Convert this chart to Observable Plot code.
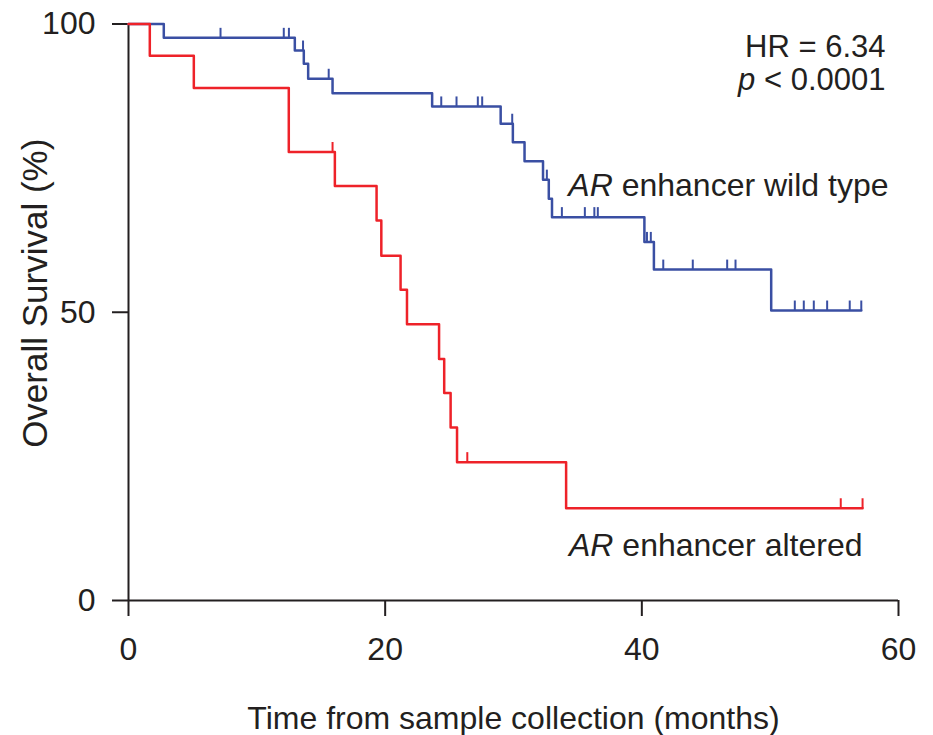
<!DOCTYPE html>
<html><head><meta charset="utf-8">
<script src="https://cdn.jsdelivr.net/npm/d3@7"></script>
<script src="https://cdn.jsdelivr.net/npm/@observablehq/plot@0.6"></script>
<style>html,body{margin:0;padding:0;background:#fff}</style>
</head><body><div id="chart"></div>
<script>
// AR enhancer wild type (blue) — step times (months) and survival (%)
const wildTimes = [0, 2.75, 12.96, 13.66, 14.0, 15.9, 23.66, 29.0, 29.95, 30.86, 32.3, 32.75, 33.0, 40.2, 40.94, 50.08, 57.1];
const wildSurv  = [100, 97.6, 95.4, 93.1, 90.5, 88.0, 85.7, 82.7, 79.5, 76.2, 73.0, 69.7, 66.5, 62.2, 57.4, 50.3, 50.3];
const wildCensorTimes = [7.17, 12.1, 12.5, 13.6, 15.6, 24.37, 25.56, 27.22, 27.56, 29.9, 32.6, 33.77, 35.56, 36.3, 36.57, 40.4, 40.7, 41.67, 43.97, 46.65, 47.3, 51.92, 52.62, 53.4, 54.44, 56.2, 57.1];
const wildCensorSurv  = [97.6, 97.6, 97.6, 95.4, 90.5, 85.7, 85.7, 85.7, 85.7, 82.7, 73.0, 66.5, 66.5, 66.5, 66.5, 62.2, 62.2, 57.4, 57.4, 57.4, 57.4, 50.3, 50.3, 50.3, 50.3, 50.3, 50.3];

// AR enhancer altered (red)
const altTimes = [0, 1.66, 5.09, 12.49, 16.08, 19.33, 19.7, 21.2, 21.7, 24.2, 24.6, 25.1, 25.6, 34.1, 57.2];
const altSurv  = [100, 94.5, 88.9, 77.8, 71.9, 65.9, 59.8, 53.9, 47.9, 41.9, 36.0, 30.0, 24.0, 16.0, 16.0];
const altCensorTimes = [15.9, 26.4, 55.5, 57.2];
const altCensorSurv  = [77.8, 24.0, 16.0, 16.0];

const xTicks = [0, 20, 40, 60];
const yTicks = [0, 50, 100];
const xTitle = "Time from sample collection (months)";
const yTitle = "Overall Survival (%)";
const wildLabel = "AR enhancer wild type";
const altLabel = "AR enhancer altered";
const hrText = "HR = 6.34";
const pText = "p < 0.0001";

const BLUE = "#3a4fa3", RED = "#ee2229", INK = "#231f20";
const FONT = "'Liberation Sans', Arial, Helvetica, sans-serif";

const wildSteps = wildTimes.map((t, i) => ({t, s: wildSurv[i]}));
const altSteps = altTimes.map((t, i) => ({t, s: altSurv[i]}));
const wildCensor = wildCensorTimes.map((t, i) => ({t, s: wildCensorSurv[i]}));
const altCensor = altCensorTimes.map((t, i) => ({t, s: altCensorSurv[i]}));

const censorSymbol = {draw(ctx) { ctx.moveTo(0, 0); ctx.lineTo(0, -10); }};

const hasAxisMarks = typeof Plot.axisX === "function";

const marks = [];
if (hasAxisMarks) {
  marks.push(
    Plot.axisX({ticks: xTicks, tickSize: 16, tickPadding: 21, strokeWidth: 2, stroke: INK, fill: INK, fontSize: 32, label: null, tickFormat: d => String(d)}),
    Plot.axisY({ticks: yTicks, tickSize: 16, tickPadding: 17, strokeWidth: 2, stroke: INK, fill: INK, fontSize: 32, label: null, tickFormat: d => String(d)})
  );
}
marks.push(
  Plot.ruleX([0], {stroke: INK, strokeWidth: 2}),
  Plot.ruleY([0], {stroke: INK, strokeWidth: 2}),
  Plot.line(wildSteps, {x: "t", y: "s", curve: "step-after", stroke: BLUE, strokeWidth: 2.5}),
  Plot.dot(wildCensor, {x: "t", y: "s", symbol: censorSymbol, stroke: BLUE, strokeWidth: 2, fill: "none", r: 3}),
  Plot.line(altSteps, {x: "t", y: "s", curve: "step-after", stroke: RED, strokeWidth: 2.5}),
  Plot.dot(altCensor, {x: "t", y: "s", symbol: censorSymbol, stroke: RED, strokeWidth: 2, fill: "none", r: 3}),
  Plot.text([hrText], {frameAnchor: "top-right", textAnchor: "end", lineAnchor: "bottom", dx: -13, dy: 32.5, fontSize: 31, fill: INK}),
  Plot.text([pText], {frameAnchor: "top-right", textAnchor: "end", lineAnchor: "bottom", dx: -13, dy: 65.5, fontSize: 31, fill: INK}),
  Plot.text([wildLabel], {frameAnchor: "top-right", textAnchor: "end", lineAnchor: "bottom", dx: -10, dy: 171.5, fontSize: 32, fill: INK}),
  Plot.text([altLabel], {frameAnchor: "top-right", textAnchor: "end", lineAnchor: "bottom", dx: -36, dy: 531.5, fontSize: 32, fill: INK}),
  Plot.text([xTitle], {frameAnchor: "bottom", textAnchor: "middle", lineAnchor: "bottom", dy: 128, fontSize: 32, fill: INK}),
  Plot.text([yTitle], {frameAnchor: "left", textAnchor: "middle", lineAnchor: "middle", rotate: -90, dx: -93, dy: -19, fontSize: 35, fill: INK})
);

const chart = Plot.plot({
  width: 933,
  height: 735,
  marginLeft: 128,
  marginRight: 35,
  marginTop: 23.5,
  marginBottom: 135,
  style: {fontFamily: FONT, fontSize: "32px", color: INK, background: "#fff", overflow: "visible"},
  x: {domain: [0, 60], ticks: xTicks, tickSize: 16, tickPadding: 21, label: null, axis: hasAxisMarks ? null : "bottom"},
  y: {domain: [0, 100], ticks: yTicks, tickSize: 16, tickPadding: 17, label: null, axis: hasAxisMarks ? null : "left"},
  marks
});

// italicise the gene symbol and p
const NS = "http://www.w3.org/2000/svg";
function italicPrefix(el, prefix) {
  const rest = el.textContent.slice(prefix.length);
  while (el.firstChild) el.removeChild(el.firstChild);
  const a = document.createElementNS(NS, "tspan");
  a.setAttribute("font-style", "italic");
  a.textContent = prefix;
  const b = document.createElementNS(NS, "tspan");
  b.textContent = rest;
  el.appendChild(a); el.appendChild(b);
}
chart.querySelectorAll("text").forEach(el => {
  const s = el.textContent;
  if (s === wildLabel || s === altLabel) italicPrefix(el, "AR");
  else if (s === pText) italicPrefix(el, "p");
});
if (!hasAxisMarks) {
  chart.querySelectorAll('[aria-label$="tick"]').forEach(g => g.setAttribute("stroke-width", 2));
}
document.getElementById("chart").appendChild(chart);
</script>
</body></html>
